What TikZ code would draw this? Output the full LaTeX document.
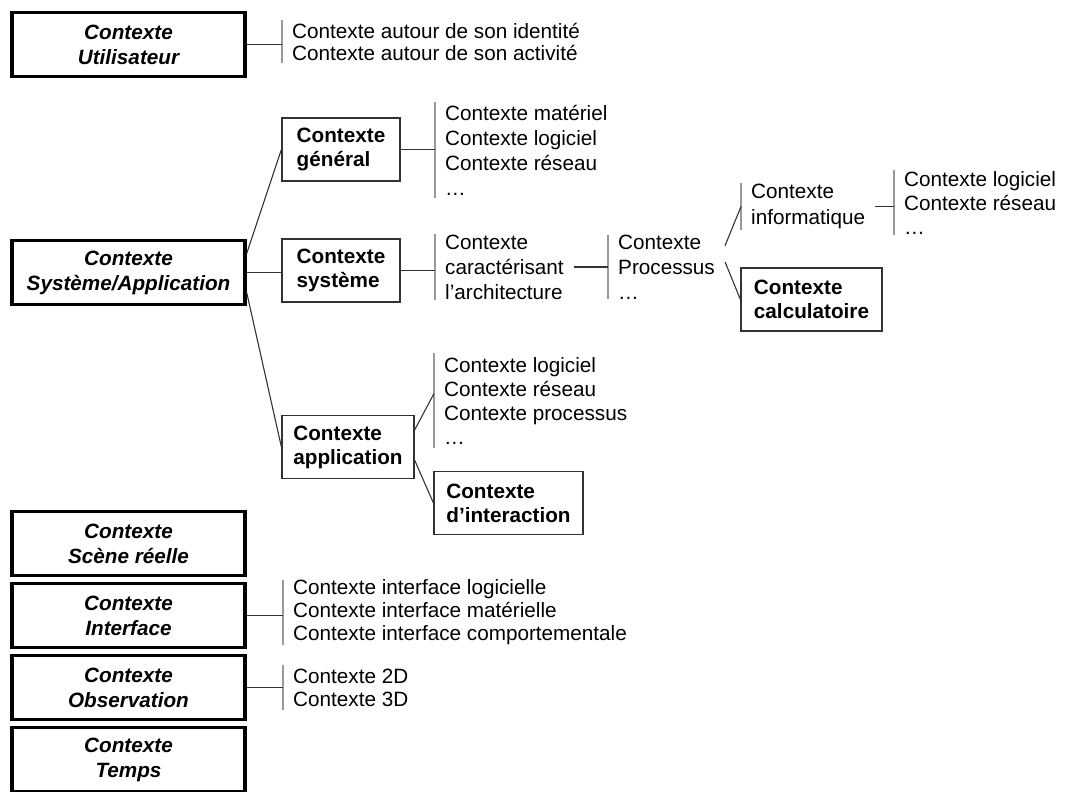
\documentclass[tikz,border=0pt]{standalone}
\usepackage{fontspec}
\setmainfont{Liberation Sans}
\usetikzlibrary{positioning}

\begin{document}
\begin{tikzpicture}
    [x=1pt, y=-1pt, node distance=72pt,
     every node/.style={font=\fontsize{20.7}{24}\selectfont, inner sep=0pt},
     ctx/.style={draw, line width=3.4pt, minimum width=233pt, minimum height=64pt, align=center,
                 font=\fontsize{20.7}{25}\selectfont\bfseries\itshape},
     sous/.style={draw=black!80, line width=1.2pt, minimum height=63pt, align=left,
                  font=\fontsize{20.7}{24}\selectfont\bfseries},
     liste/.style={align=left, anchor=west, inner xsep=10pt, minimum height=#1},
     lien/.style={black!80, line width=1.1pt},
     barre/.style={black!40, line width=1.2pt}]
  \useasboundingbox (0,0) rectangle (1066,792);

  \node[ctx] (U) at (128.5,44.5) {Contexte\\Utilisateur};
  \node[ctx] (S) at (128.5,272.5) {Contexte\\Système/Application};
  \node[ctx] (R) at (128.5,543.5) {Contexte\\Scène réelle};
  \node[ctx] (I) [below of=R] {Contexte\\Interface};
  \node[ctx] (O) [below of=I] {Contexte\\Observation};
  \node[ctx] (T) [below of=O] {Contexte\\Temps};

  \node[sous, minimum width=118pt] (G) at (341,149.5) {Contexte\\général};
  \node[sous, minimum width=118pt] (Y) at (341,270.5) {Contexte\\système};
  \node[sous, minimum width=132pt] (A) at (348,447) {Contexte\\application};
  \node[sous, minimum width=149pt] (D) at (508.5,503) {Contexte\\d’interaction};
  \node[sous, minimum width=141pt] (K) at (811.5,299.5) {Contexte\\calculatoire};

  \node[liste=43pt, font=\fontsize{20.7}{22}\selectfont] (lU) at (282,41.5)
    {Contexte autour de son identité\\Contexte autour de son activité};
  \node[liste=96pt, font=\fontsize{20.7}{25}\selectfont] (lG) at (435,150)
    {Contexte matériel\\Contexte logiciel\\Contexte réseau\\…};
  \node[liste=62pt, font=\fontsize{20.7}{25}\selectfont] (lY) at (435,267)
    {Contexte\\caractérisant\\l’architecture};
  \node[liste=62pt, font=\fontsize{20.7}{25}\selectfont] (lP) at (608,267) {Contexte\\Processus\\…};
  \node[liste=47pt, font=\fontsize{20.7}{26}\selectfont] (lI) at (741,206.5) {Contexte\\informatique};
  \node[liste=65pt] (lR) at (894,202.5) {Contexte logiciel\\Contexte réseau\\…};
  \node[liste=95pt] (lA) at (434,400.5) {Contexte logiciel\\Contexte réseau\\Contexte processus\\…};
  \node[liste=63pt, font=\fontsize{20.7}{23}\selectfont] (lF) at (283,612.5)
    {Contexte interface logicielle\\Contexte interface matérielle\\Contexte interface comportementale};
  \node[liste=45pt, font=\fontsize{20.7}{23}\selectfont] (lO) at (283,687.5) {Contexte 2D\\Contexte 3D};

  \foreach \l in {lU,lG,lY,lP,lI,lR,lA,lF,lO}
    \draw[barre] (\l.north west) -- (\l.south west);

  \draw[lien] (U.east) -- (U.east -| lU.west);
  \draw[lien] ([yshift=19pt]S.east) -- (G.west);
  \draw[lien] (S.east) -- (S.east -| Y.west);
  \draw[lien] ([yshift=-20pt]S.east) -- (A.west);
  \draw[lien] (G.east) -- (G.east -| lG.west);
  \draw[lien] (Y.east) -- (Y.east -| lY.west);
  \draw[lien] (lY.east) -- (lY.east -| lP.west);
  \draw[lien] (lP.20) -- (lI.west);
  \draw[lien] (lP.5) -- (K.west);
  \draw[lien] (lI.east) -- (lI.east -| lR.west);
  \draw[lien] ([yshift=17pt]A.east) -- ([yshift=7pt]lA.west);
  \draw[lien] ([yshift=-13pt]A.east) -- (D.west);
  \draw[lien] (I.east) -- (I.east -| lF.west);
  \draw[lien] (O.east) -- (O.east -| lO.west);
\end{tikzpicture}
\end{document}
